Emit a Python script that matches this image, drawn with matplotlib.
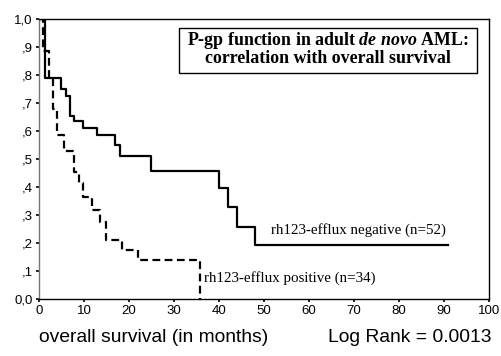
import matplotlib
matplotlib.use("Agg")
import matplotlib.pyplot as plt

plt.rcParams["mathtext.fontset"] = "custom"
plt.rcParams["mathtext.rm"] = "Liberation Serif:bold"
plt.rcParams["mathtext.it"] = "Liberation Serif:italic:bold"
plt.rcParams["mathtext.bf"] = "Liberation Serif:bold"

# Kaplan-Meier step data (months, survival fraction)
neg_times = [0, 1.3, 4.9, 6.0, 7.0, 7.8, 9.8, 13.0, 16.9, 18.0, 24.8, 40.0, 41.9, 43.9, 48.0, 91.0]
neg_surv = [1.0, 0.79, 0.75, 0.725, 0.655, 0.634, 0.61, 0.586, 0.55, 0.51, 0.458, 0.395, 0.328, 0.258, 0.193, 0.193]

pos_times = [0, 1.0, 2.2, 3.1, 3.9, 5.6, 7.8, 8.9, 9.8, 11.8, 13.6, 14.8, 18.4, 22.1, 35.8]
pos_surv = [1.0, 0.886, 0.79, 0.68, 0.585, 0.527, 0.455, 0.413, 0.366, 0.318, 0.275, 0.21, 0.175, 0.14, 0.0]

x_ticks = [0, 10, 20, 30, 40, 50, 60, 70, 80, 90, 100]
y_ticks = [0.0, 0.1, 0.2, 0.3, 0.4, 0.5, 0.6, 0.7, 0.8, 0.9, 1.0]
y_labels = ["0,0", ",1", ",2", ",3", ",4", ",5", ",6", ",7", ",8", ",9", "1,0"]

neg_label = "rh123-efflux negative (n=52)"
pos_label = "rh123-efflux positive (n=34)"

fig = plt.figure(figsize=(5.02, 3.56), dpi=100)
ax = fig.add_axes([39/502, 1-299/356, (489-39)/502, (299-19)/356])

ax.step(neg_times, neg_surv, where="post", color="black", lw=1.6)
ax.step(pos_times, pos_surv, where="post", color="black", lw=1.6, linestyle=(0, (3.5, 2)))

ax.set_xlim(0, 100)
ax.set_ylim(0, 1.0)
ax.set_xticks(x_ticks)
ax.set_yticks(y_ticks)
ax.set_yticklabels(y_labels)
sans = "Liberation Sans"
for lab in ax.get_xticklabels() + ax.get_yticklabels():
    lab.set_fontfamily(sans)
    lab.set_fontsize(9.5)
ax.tick_params(axis="both", direction="out", length=2.5, width=1.2, color="black", pad=2)
for s in ax.spines.values():
    s.set_linewidth(1.0)
    s.set_color("black")
ax.spines["left"].set_color("#777777")

serif = "Liberation Serif"
ax.text(51.5, 0.246, neg_label, fontfamily=serif, fontsize=10.8, va="center", ha="left")
ax.text(36.6, 0.076, pos_label, fontfamily=serif, fontsize=10.8, va="center", ha="left")

# title box
box_l, box_r = (179-39)/4.5, (477-39)/4.5
box_t, box_b = (299-28)/280, (299-72.5)/280
ax.add_patch(plt.Rectangle((box_l, box_b), box_r-box_l, box_t-box_b, fill=True,
                           facecolor="white", edgecolor="black", lw=1.0, zorder=5))
cx = (box_l + box_r) / 2
ax.text(cx, box_b + (box_t-box_b)*0.62,
        r"P-gp function in adult $\mathit{de\ novo}$ AML:",
        fontfamily=serif, fontweight="bold", fontsize=12.9, ha="center", va="baseline", zorder=6)
ax.text(cx, box_b + (box_t-box_b)*0.22,
        "correlation with overall survival",
        fontfamily=serif, fontweight="bold", fontsize=12.9, ha="center", va="baseline", zorder=6)

fig.text(39/502, 1-337/356, "overall survival (in months)", fontfamily=sans, fontsize=13.9,
         ha="left", va="center")
fig.text(492/502, 1-337/356, "Log Rank = 0.0013", fontfamily=sans, fontsize=13.9,
         ha="right", va="center")

fig.savefig("out.png", dpi=100)
